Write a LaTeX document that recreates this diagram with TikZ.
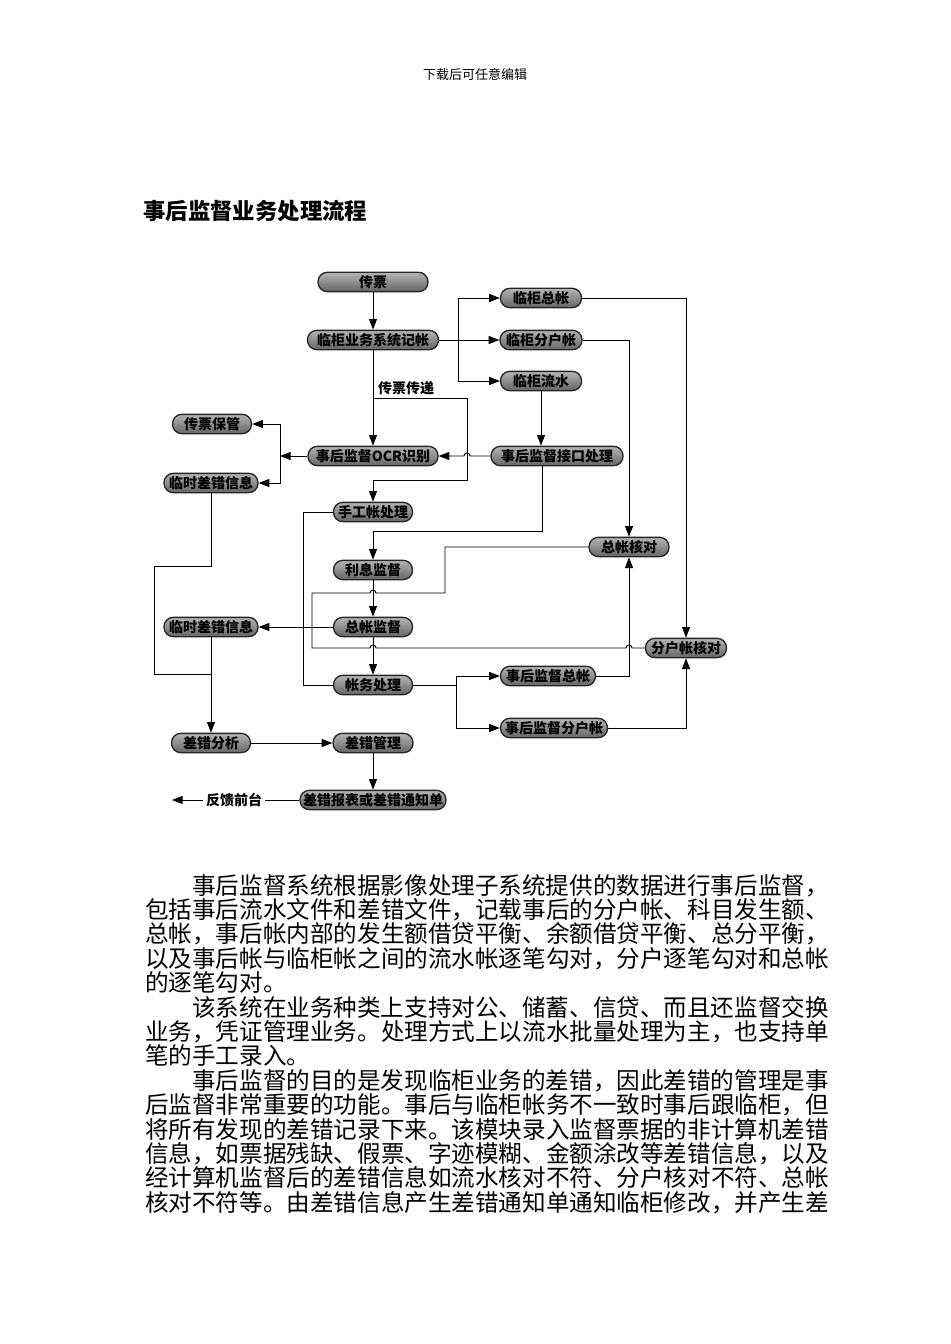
\documentclass[tikz,border=0pt]{standalone}
\usepackage{fontspec}
\setmainfont{Noto Sans CJK SC}
\usetikzlibrary{arrows.meta}
\pgfdeclareverticalshading{metal}{100bp}{color(0bp)=(black!82); color(22bp)=(black!62); color(58bp)=(black!40); color(80bp)=(black!26); color(100bp)=(black!62)}
\tikzset{
 pill/.style={rectangle, rounded corners=7pt, draw=black!85, line width=1pt, shading=metal, minimum height=14.5pt, inner xsep=2pt, inner ysep=0pt, font=\fontsize{10.5}{12}\selectfont\bfseries, text=black},
 arr/.style={-{Triangle[length=8pt,width=6pt]}, line width=0.7pt},
 ln/.style={line width=0.7pt},
 lbl/.style={font=\fontsize{10.5}{12}\selectfont\bfseries, inner sep=2pt},
 para/.style={anchor=base west, inner sep=0pt, font=\fontsize{17.68}{18}\selectfont},
}
\begin{document}
\begin{tikzpicture}[x=0.75pt,y=-0.75pt]
\fill[white] (0,0) rectangle (950,1344);
\useasboundingbox (0,0) rectangle (950,1344);

% header and title
\node[font=\fontsize{9.75}{12}\selectfont, inner sep=0pt] (hdr) at (475,75) {下载后可任意编辑};
\node[font=\fontsize{16.8}{20}\selectfont\bfseries, anchor=west, inner sep=0pt] (ttl) at (143,211) {事后监督业务处理流程};

% nodes
\node[pill, minimum width=82.5pt] (cp) at (373,282) {传票};
\node[pill, minimum width=98.25pt] (jz) at (373,340) {临柜业务系统记帐};
\node[pill, minimum width=60.75pt] (zz) at (541,298) {临柜总帐};
\node[pill, minimum width=61.5pt] (fhz) at (541,340) {临柜分户帐};
\node[pill, minimum width=60.75pt] (ls) at (541,381) {临柜流水};
\node[pill, minimum width=99pt] (jk) at (557,456) {事后监督接口处理};
\node[pill, minimum width=97.5pt] (ocr) at (373,456) {事后监督OCR识别};
\node[pill, minimum width=59.25pt] (cpbg) at (212,424) {传票保管};
\node[pill, minimum width=70.5pt] (ls1) at (211,483) {临时差错信息};
\node[pill, minimum width=59.25pt] (sg) at (373,512) {手工帐处理};
\node[pill, minimum width=59.25pt] (lx) at (373,570) {利息监督};
\node[pill, minimum width=59.25pt] (zjd) at (373,627) {总帐监督};
\node[pill, minimum width=70.5pt] (ls2) at (211,627) {临时差错信息};
\node[pill, minimum width=59.25pt] (zw) at (373,685) {帐务处理};
\node[pill, minimum width=60pt] (hd) at (629,547) {总帐核对};
\node[pill, minimum width=60.75pt] (fhd) at (686,648) {分户帐核对};
\node[pill, minimum width=71.25pt] (hz) at (548,676) {事后监督总帐};
\node[pill, minimum width=80.25pt] (hfh) at (554,728) {事后监督分户帐};
\node[pill, minimum width=59.25pt] (cf) at (211,743) {差错分析};
\node[pill, minimum width=60pt] (cg) at (373,743) {差错管理};
\node[pill, minimum width=109.5pt] (bb) at (373,800) {差错报表或差错通知单};

\node[lbl] (lab) at (406,388) {传票传递};
\node[lbl] (fk) at (234,800) {反馈前台};

% coordinates
\coordinate (b1) at (458,340);
\coordinate (t1) at (373,398);
\coordinate (t2) at (467,398);
\coordinate (t3) at (373,480);
\coordinate (c1) at (542,531);
\coordinate (c2) at (280,456);
\coordinate (d1) at (211,566);
\coordinate (d2) at (154,674);
\coordinate (d3) at (211,674);
\coordinate (e1) at (303,512);
\coordinate (f1) at (445,547);
\coordinate (f2) at (445,593);
\coordinate (f3) at (312,593);
\coordinate (f4) at (312,648);
\coordinate (g1) at (456,685);
\coordinate (c5) at (172,800);

% connectors
\draw[arr] (cp) -- (jz);
\draw[arr] (jz) -- (fhz);
\draw[arr] (b1) |- (zz);
\draw[arr] (b1) |- (ls);
\draw[arr] (jz) -- (ocr);
\draw[arr] (t1) -- (t2) |- (t3) -- (sg);
\draw[arr] (ls.south) -- (ls.south |- jk.north);
\draw[arr] (jk.west) -- (470,456) arc[start angle=0,end angle=180,radius=2.25pt] -- (ocr.east);
\draw[arr] (c1 |- jk.south) -- (c1) -| (lx);
\draw[arr] (ocr) -- (c2);
\draw[arr] (c2) |- (cpbg);
\draw[arr] (c2) |- (ls1);
\draw[ln] (ls1) -- (d1) -| (d2) -- (d3);
\draw[arr] (ls2) -- (cf);
\draw[arr] (zjd) -- (ls2);
\draw[ln] (sg) -- (e1) |- (zw);
\draw[arr] (lx) -- (zjd);
\draw[arr] (zjd) -- (zw);
\draw[ln] (hd) -- (f1) -- (f2) -- (376,593) arc[start angle=0,end angle=180,radius=2.25pt] -- (f3) -- (f4)
  -- (370,648) arc[start angle=180,end angle=0,radius=2.25pt]
  -- (626,648) arc[start angle=180,end angle=0,radius=2.25pt] -- (fhd);
\draw[ln] (zw) -- (g1);
\draw[arr] (g1) |- (hz);
\draw[arr] (g1) |- (hfh);
\draw[arr] (hz) -| (hd);
\draw[arr] (fhz) -| (hd);
\draw[arr] (zz) -| (fhd);
\draw[arr] (hfh) -| (fhd);
\draw[arr] (cf) -- (cg);
\draw[arr] (cg) -- (bb);
\draw[ln] (bb) -- (fk);
\draw[arr] (fk) -- (c5);

% paragraph text
\node[para] (p1) at (192.1,894.0) {事后监督系统根据影像处理子系统提供的数据进行事后监督，};
\node[para] (p2) at (145,918.4) {包括事后流水文件和差错文件，记载事后的分户帐、科目发生额、};
\node[para] (p3) at (145,942.8) {总帐，事后帐内部的发生额借贷平衡、余额借贷平衡、总分平衡，};
\node[para] (p4) at (145,967.2) {以及事后帐与临柜帐之间的流水帐逐笔勾对，分户逐笔勾对和总帐};
\node[para] (p5) at (145,991.6) {的逐笔勾对。};
\node[para] (p6) at (192.1,1016.0) {该系统在业务种类上支持对公、储蓄、信贷、而且还监督交换};
\node[para] (p7) at (145,1040.4) {业务，凭证管理业务。处理方式上以流水批量处理为主，也支持单};
\node[para] (p8) at (145,1064.8) {笔的手工录入。};
\node[para] (p9) at (192.1,1089.2) {事后监督的目的是发现临柜业务的差错，因此差错的管理是事};
\node[para] (p10) at (145,1113.6) {后监督非常重要的功能。事后与临柜帐务不一致时事后跟临柜，但};
\node[para] (p11) at (145,1138.0) {将所有发现的差错记录下来。该模块录入监督票据的非计算机差错};
\node[para] (p12) at (145,1162.4) {信息，如票据残缺、假票、字迹模糊、金额涂改等差错信息，以及};
\node[para] (p13) at (145,1186.8) {经计算机监督后的差错信息如流水核对不符、分户核对不符、总帐};
\node[para] (p14) at (145,1211.2) {核对不符等。由差错信息产生差错通知单通知临柜修改，并产生差};
\end{tikzpicture}
\end{document}
